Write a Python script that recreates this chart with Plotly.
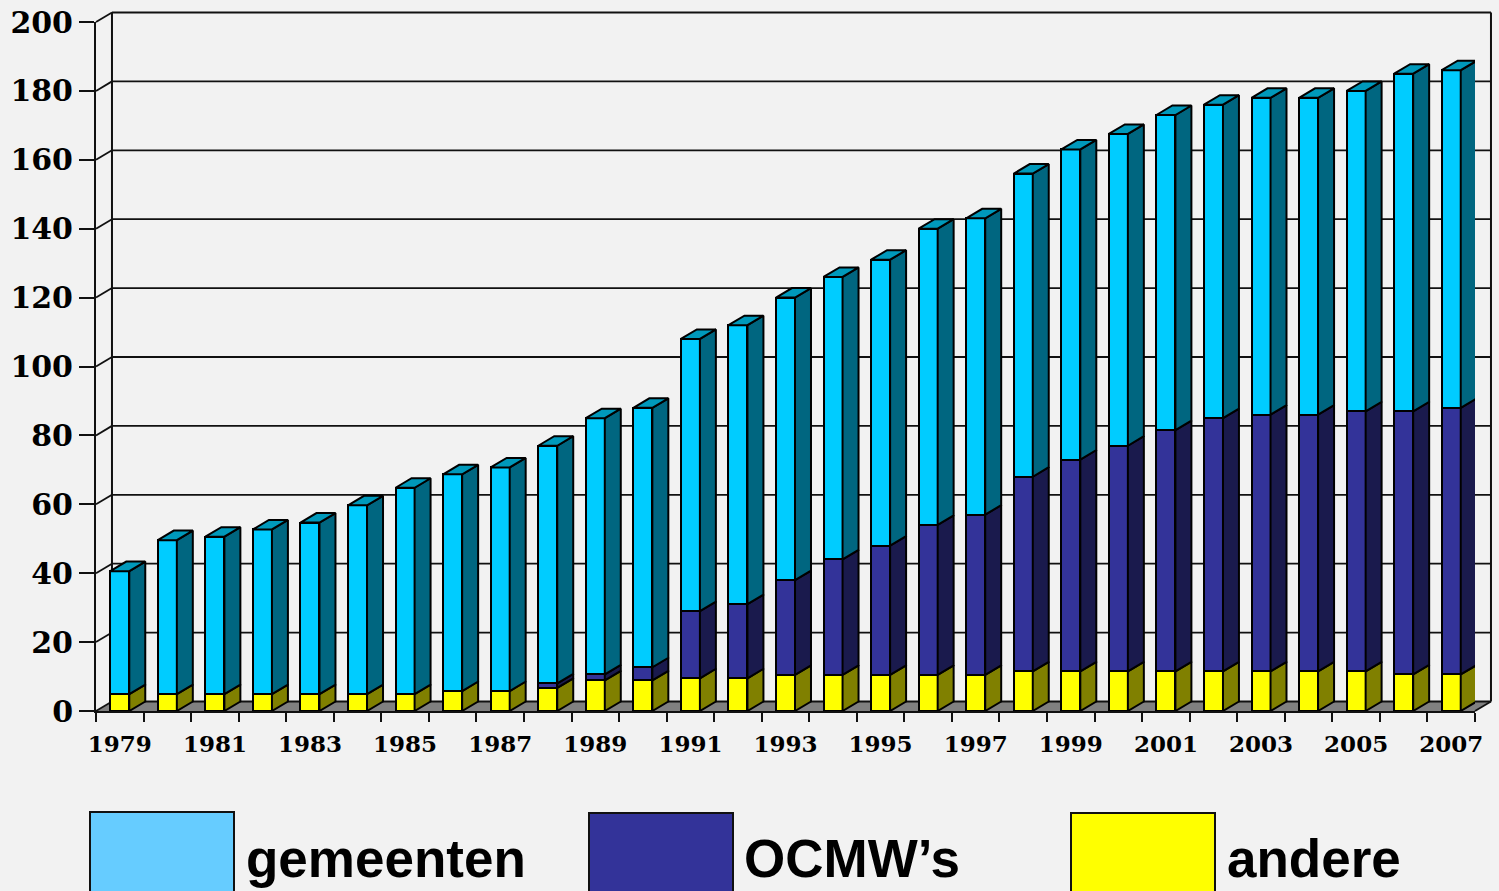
import plotly.graph_objects as go

years = list(range(1979, 2008))
andere = [4.9, 4.9, 4.9, 4.9, 4.9, 4.9, 4.9, 5.8, 5.8, 6.7, 8.9, 8.9, 9.5, 9.5, 10.5,
          10.5, 10.5, 10.5, 10.5, 11.5, 11.5, 11.5, 11.5, 11.5, 11.5, 11.5, 11.5, 10.6, 10.6]
ocmw = [0, 0, 0, 0, 0, 0, 0, 0, 0, 1.3, 1.7, 3.8, 19.5, 21.5, 27.5,
        33.5, 37.5, 43.5, 46.5, 56.5, 61.5, 65.5, 70, 73.5, 74.5, 74.5, 75.5, 76.4, 77.4]
totals = [40.6, 49.6, 50.6, 52.7, 54.7, 59.7, 64.8, 68.7, 70.7, 77, 85, 88, 108, 112, 120,
          126, 131, 140, 143, 156, 163, 167.5, 173, 176, 178, 178, 180, 185, 186]
gemeenten = [round(t - a - o, 1) for t, a, o in zip(totals, andere, ocmw)]
y_ticks = list(range(0, 201, 20))
x_label_years = list(range(1979, 2008, 2))

BG = "#F2F2F2"
W, H = 1499, 891
L, R, T, B = 96, 1475, 22, 711          # plot area in page pixels
X0, X1 = 1978.5, 2007.5
BAR_W = 0.40
DX, DY = 0.336, 2.76                    # depth of the 3-D look, in data units
LW = 2


def xp(x):
    return (x - X0) / (X1 - X0)


def yp(y):
    return y / 200


def side_and_top(bases, tops):
    sx, sy = [], []
    tx, ty = [], []
    for yr, b, t in zip(years, bases, tops):
        if t <= b:
            continue
        xr = yr + BAR_W / 2
        xl = yr - BAR_W / 2
        sx += [xr, xr + DX, xr + DX, xr, xr, None]
        sy += [b, b + DY, t + DY, t, b, None]
        tx += [xl, xr, xr + DX, xl + DX, xl, None]
        ty += [t, t, t + DY, t + DY, t, None]
    return sx, sy, tx, ty


fig = go.Figure()

base = [0.0] * len(years)
series = [
    ("andere", andere, "#FFFF00", "#808000"),
    ("OCMW's", ocmw, "#333399", "#1A1A4D"),
    ("gemeenten", gemeenten, "#00CCFF", "#006680"),
]
poly_traces = []
for name, vals, front, side in series:
    fig.add_bar(x=years, y=vals, name=name, width=BAR_W, marker=dict(color=front, line=dict(color="black", width=LW)),
                showlegend=False)
    tops = [b + v for b, v in zip(base, vals)]
    sx, sy, tx, ty = side_and_top(base, tops)
    poly_traces.append(go.Scatter(x=sx, y=sy, mode="lines", fill="toself", fillcolor=side,
                                  line=dict(color="black", width=LW), cliponaxis=False,
                                  hoverinfo="skip", showlegend=False))
    if name == "gemeenten":
        poly_traces.append(go.Scatter(x=tx, y=ty, mode="lines", fill="toself", fillcolor="#0099BB",
                                      line=dict(color="black", width=LW), cliponaxis=False,
                                      hoverinfo="skip", showlegend=False))
    base = tops
fig.add_traces(poly_traces)

# floor and back walls
shapes = []
line = dict(color="#111111", width=1.8)
bx0, bx1 = xp(X0 + DX), xp(X1 + DX)
shapes.append(dict(type="path", xref="paper", yref="paper", layer="below", line=dict(width=0), fillcolor="#808080",
                   path=f"M{xp(X0)},0 L{bx0},{yp(DY)} L{bx1},{yp(DY)} L{xp(X1)},0 Z"))
for v in y_ticks:
    shapes.append(dict(type="line", xref="paper", yref="paper", layer="below", line=line,
                       x0=bx0, x1=bx1, y0=yp(v + DY), y1=yp(v + DY)))
    shapes.append(dict(type="line", xref="paper", yref="paper", layer="below", line=line,
                       x0=xp(X0), x1=bx0, y0=yp(v), y1=yp(v + DY)))
for bx in (bx0, bx1):
    shapes.append(dict(type="line", xref="paper", yref="paper", layer="below", line=dict(color="#111111", width=2),
                       x0=bx, x1=bx, y0=yp(DY), y1=yp(200 + DY)))
shapes.append(dict(type="line", xref="paper", yref="paper", layer="below", line=line,
                   x0=xp(X1), x1=bx1, y0=0, y1=yp(DY)))


# legend drawn the way the source slide does it
def pxx(p):
    return (p - L) / (R - L)


def pxy(p):
    return (B - p) / (B - T)


legend_items = [("gemeenten", "#66CCFF", 90, 234, 812, 244),
                ("OCMW’s", "#333399", 589, 733, 813, 742),
                ("andere", "#FFFF00", 1071, 1215, 813, 1225)]
annotations = []
for text, color, x0, x1, ytop, tx in legend_items:
    shapes.append(dict(type="rect", xref="paper", yref="paper", x0=pxx(x0), x1=pxx(x1), y0=pxy(ytop), y1=pxy(920),
                       fillcolor=color, line=dict(color="#111111", width=2)))
    annotations.append(dict(xref="paper", yref="paper", x=pxx(tx), y=pxy(858), xanchor="left", yanchor="middle",
                            text=f"<b>{text}</b>", showarrow=False,
                            font=dict(family="Liberation Sans", size=53, color="black")))

fig.update_layout(
    width=W, height=H, margin=dict(l=L, r=W - R, t=T, b=H - B, pad=0, autoexpand=False),
    paper_bgcolor=BG, plot_bgcolor="rgba(0,0,0,0)", barmode="stack", bargap=0.6,
    shapes=shapes, annotations=annotations,
    xaxis=dict(range=[X0, X1], tickmode="array", tickvals=x_label_years, ticktext=[str(y) for y in x_label_years],
               ticks="outside", ticklen=11, tickcolor="rgba(0,0,0,0)", showgrid=False, zeroline=False,
               showline=True, linecolor="#111111", linewidth=2,
               tickfont=dict(family="DejaVu Serif", size=23, color="black", weight="bold"), tickangle=0,
               minor=dict(tickvals=[X0 + i for i in range(0, 30)], ticks="outside", ticklen=9, tickcolor="#111111",
                          tickwidth=2, showgrid=False)),
    yaxis=dict(range=[0, 200], tickmode="array", tickvals=y_ticks, ticks="outside", ticklen=15, tickcolor="#111111",
               tickwidth=1.8, showgrid=False, zeroline=False, showline=True, linecolor="#111111", linewidth=2,
               tickfont=dict(family="DejaVu Serif", size=30, color="black", weight="bold")),
)

fig.write_html("out.html", config=dict(displayModeBar=False),
               post_script="document.body.style.margin='0';document.body.style.overflow='hidden';")
